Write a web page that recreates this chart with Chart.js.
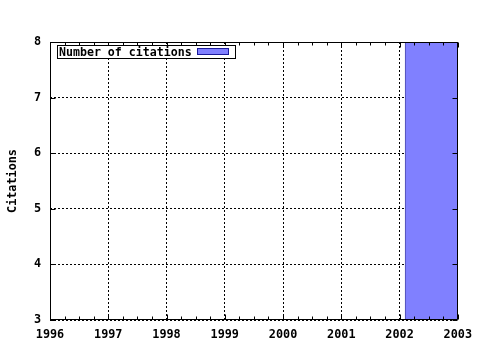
<!DOCTYPE html>
<html>
<head>
<meta charset="utf-8">
<script src="https://cdn.jsdelivr.net/npm/chart.js@4"></script>
<style>
  body { margin: 0; background: #fff; }
  canvas { display: block; }
</style>
</head>
<body>
<canvas id="chart" width="480" height="350"></canvas>
<script>
// data
const years = [2003];
const citations = [8];
const seriesLabel = 'Number of citations';
const yearTicks = [1996, 1997, 1998, 1999, 2000, 2001, 2002, 2003];
const citationTicks = [3, 4, 5, 6, 7, 8];

const monoBold = { family: "'DejaVu Sans Mono', monospace", size: 11.8, weight: 'bold' };
const barFill = '#8080ff';
const barEdge = '#1a1a9a';

// gnuplot-ish frame with inward ticks, drawn on top of the bars
const framePlugin = {
    id: 'frame',
    afterDatasetsDraw(chart) {
        const { ctx, chartArea: a, scales } = chart;
        const L = Math.round(a.left) + 0.5, R = Math.round(a.right) - 0.5;
        const T = Math.round(a.top) + 0.5, B = Math.round(a.bottom) - 0.5;
        ctx.save();
        ctx.strokeStyle = '#000';
        ctx.lineWidth = 1;
        ctx.beginPath();
        ctx.rect(L, T, R - L, B - T);
        ctx.stroke();

        ctx.beginPath();
        // x major + minor ticks, bottom and top
        for (let v = yearTicks[0]; v <= yearTicks[yearTicks.length - 1] + 1e-9; v += 0.25) {
            const x = Math.round(scales.x.getPixelForValue(v)) + 0.5;
            const len = Math.abs(v - Math.round(v)) < 1e-9 ? 5 : 3;
            ctx.moveTo(x, B); ctx.lineTo(x, B - len);
            ctx.moveTo(x, T); ctx.lineTo(x, T + len);
        }
        // y major ticks, left and right
        citationTicks.forEach(v => {
            const y = Math.round(scales.y.getPixelForValue(v)) + 0.5;
            ctx.moveTo(L, y); ctx.lineTo(L + 5, y);
            ctx.moveTo(R, y); ctx.lineTo(R - 5, y);
        });
        ctx.stroke();
        ctx.restore();
    }
};

// key box in the top left corner
const keyPlugin = {
    id: 'key',
    afterDraw(chart) {
        const { ctx } = chart;
        const ds = chart.data.datasets[0];
        ctx.save();
        ctx.fillStyle = '#fff';
        ctx.fillRect(57, 45, 179, 13);
        ctx.strokeStyle = '#000';
        ctx.lineWidth = 1;
        ctx.strokeRect(57.5, 45.5, 178, 13);
        ctx.font = `bold 11.6px ${monoBold.family}`;
        ctx.fillStyle = '#000';
        ctx.textBaseline = 'middle';
        ctx.fillText(ds.label, 59, 52.5);
        ctx.fillStyle = ds.backgroundColor;
        ctx.fillRect(197, 48, 32, 7);
        ctx.strokeStyle = ds.borderColor;
        ctx.strokeRect(197.5, 48.5, 31, 6);
        ctx.restore();
    }
};

new Chart(document.getElementById('chart'), {
    type: 'bar',
    data: {
        datasets: [{
            label: seriesLabel,
            data: years.map((x, i) => ({ x: x, y: citations[i] })),
            backgroundColor: barFill,
            borderColor: barEdge,
            borderWidth: 1,
            borderSkipped: 'bottom',
            categoryPercentage: 1,
            barPercentage: 1.82
        }]
    },
    options: {
        responsive: false,
        animation: false,
        layout: { padding: { top: 42, right: 20, left: 0, bottom: 0 } },
        plugins: { legend: { display: false }, tooltip: { enabled: false } },
        scales: {
            x: {
                type: 'linear',
                min: yearTicks[0],
                max: yearTicks[yearTicks.length - 1],
                offset: false,
                afterBuildTicks: s => { s.ticks = yearTicks.map(v => ({ value: v })); },
                afterFit: s => { s.height = 30; },
                ticks: {
                    callback: v => String(v),
                    color: '#000',
                    font: monoBold,
                    padding: 8,
                    maxRotation: 0,
                    autoSkip: false
                },
                grid: { color: '#000', lineWidth: 1, drawTicks: false, offset: false },
                border: { display: false, dash: [2, 2] }
            },
            y: {
                min: citationTicks[0],
                max: citationTicks[citationTicks.length - 1],
                afterBuildTicks: s => { s.ticks = citationTicks.map(v => ({ value: v })); },
                afterFit: s => { s.width = 50; },
                ticks: { color: '#000', font: monoBold, padding: 9 },
                grid: { color: '#000', lineWidth: 1, drawTicks: false },
                border: { display: false, dash: [2, 2] },
                title: {
                    display: true,
                    text: 'Citations',
                    color: '#000',
                    font: monoBold,
                    padding: { top: 6, bottom: 0 }
                }
            }
        }
    },
    plugins: [framePlugin, keyPlugin]
});
</script>
</body>
</html>
